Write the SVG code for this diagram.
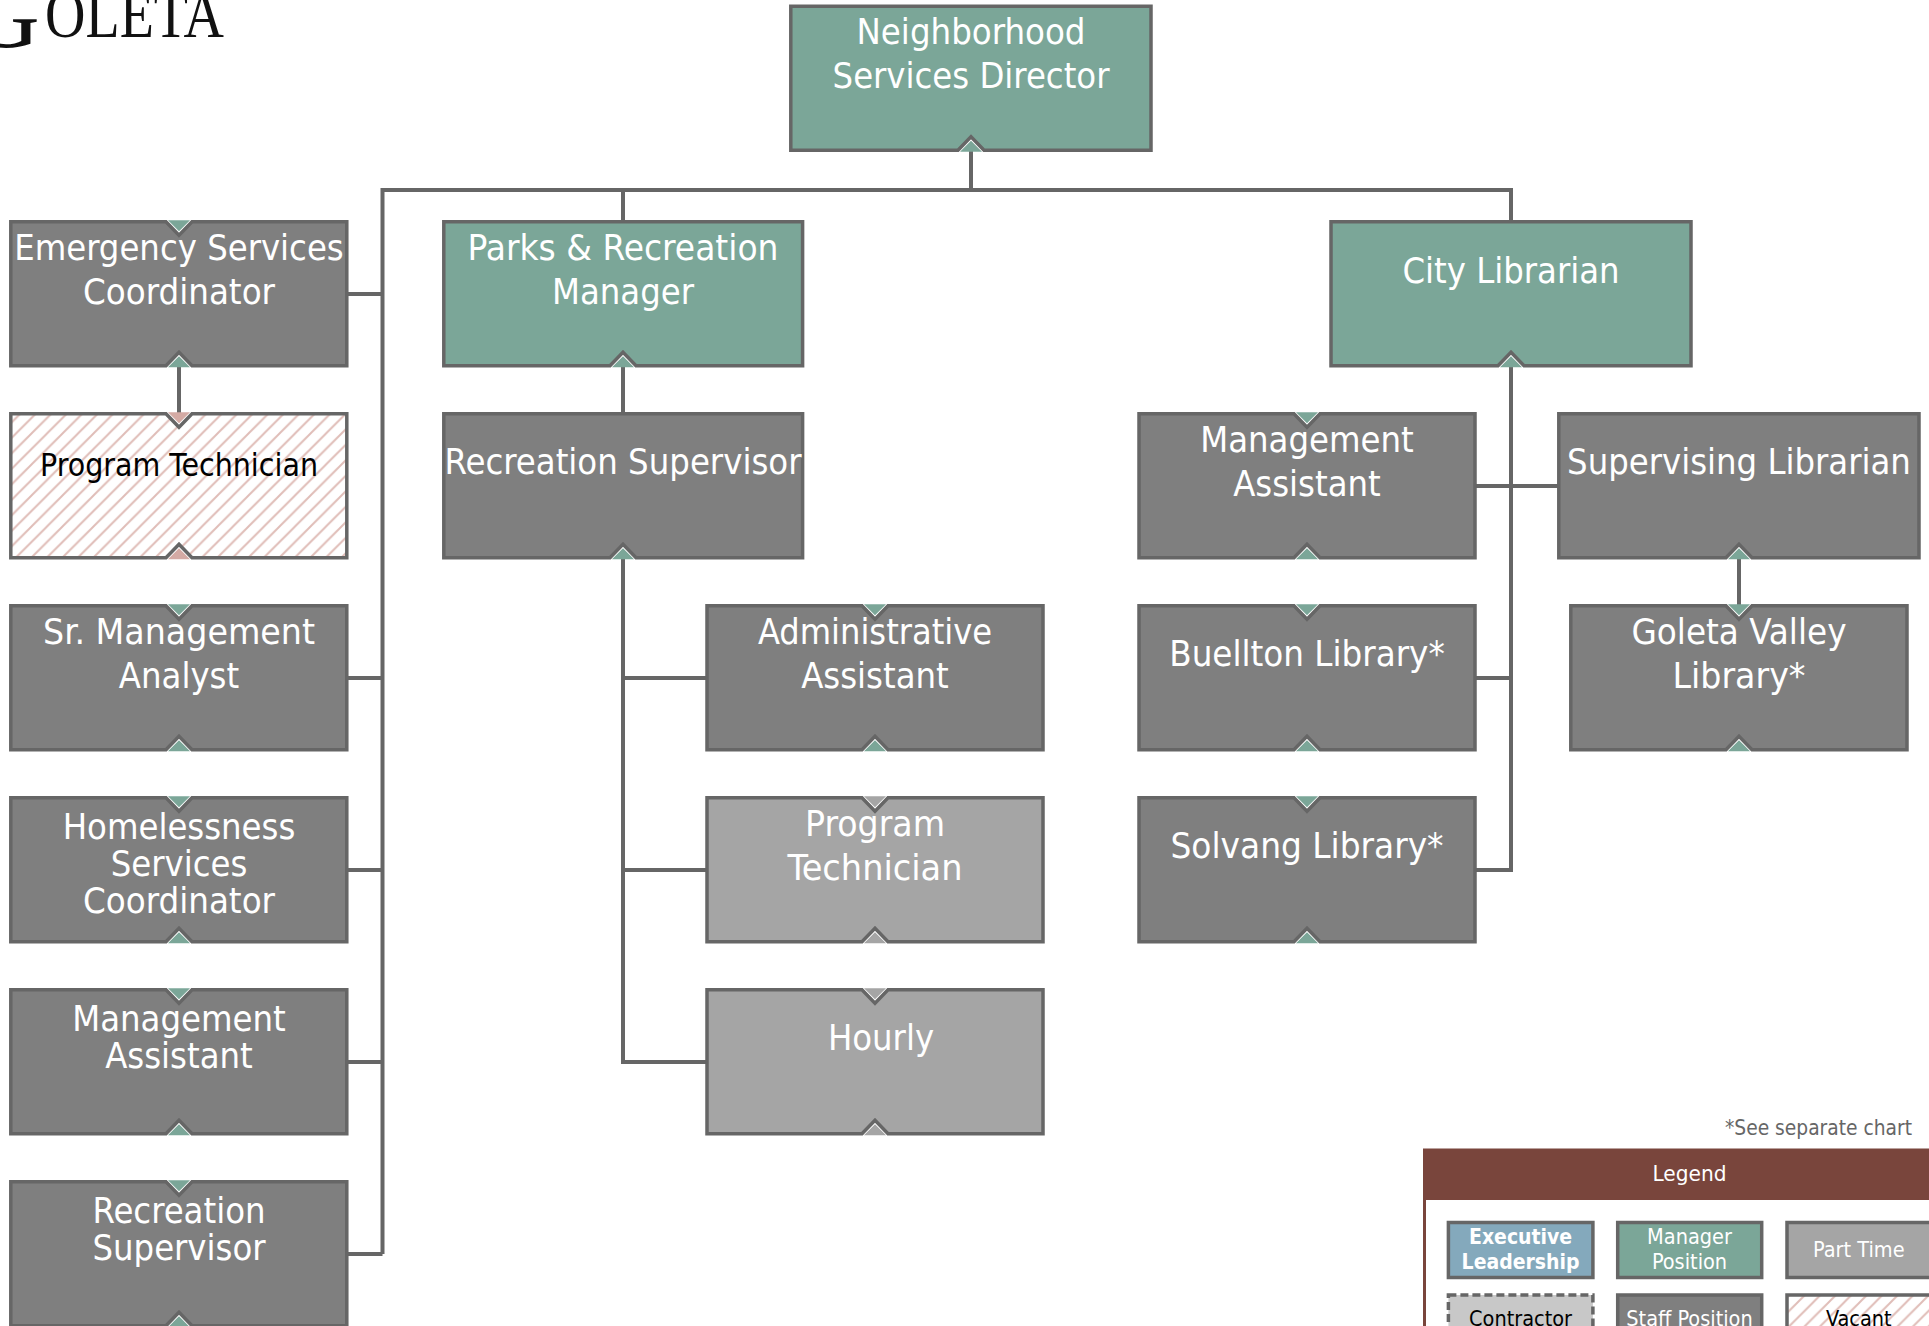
<svg xmlns="http://www.w3.org/2000/svg" width="1929" height="1326" viewBox="0 0 1929 1326">
<style>
.b{stroke:#666;stroke-width:3.5;stroke-linejoin:miter}
.t{fill:#7ba698}.g{fill:#7f7f7f}.p{fill:#a5a5a5}.v{fill:url(#h)}.k{fill:#d4aaa4}
text{font-family:"DejaVu Sans Condensed","DejaVu Sans",sans-serif;text-anchor:middle}
.n{font-size:36px;fill:#fff}
.d{font-size:32px;fill:#000}
.l{font-size:21.500px;fill:#fff}
.c{fill:none;stroke:#666;stroke-width:4}
.lb{stroke:#666;stroke-width:3.5}
</style>
<defs>
<pattern id="h" patternUnits="userSpaceOnUse" width="15.500" height="15.500"><rect width="15.500" height="15.500" fill="#fff"/><path d="M-2 17.500L17.500 -2M-2 2L2 -2M13.500 17.500L17.500 13.500" stroke="#e0bdb8" stroke-width="2"/></pattern>
<path id="up" d="M-11 0H11L0 -11Z"/>
<path id="dn" d="M-11 0H11L0 11Z"/>
</defs>
<rect width="1929" height="1326" fill="#fff"/>
<g id="logo"><text x="-31" y="37" style="font-family:'Liberation Serif',serif;text-anchor:start;font-size:68px" fill="#111"><tspan font-size="98" dy="10">G</tspan><tspan dy="-10" x="45" textLength="179" lengthAdjust="spacingAndGlyphs">OLETA</tspan></text></g>
<g id="connectors">
<path class="c" d="M971 151V190M382.500 1254V190H1511V221M623 190V221M348 294H382.500M348 678H382.500M348 870H382.500M348 1062H382.500M348 1254H382.500"/>
<path class="c" d="M179 367V413M623 367V413M623 559V1062H706M623 678H706M623 870H706"/>
<path class="c" d="M1511 367V870H1476M1476 678H1511M1476 486H1558M1739 559V605"/>
</g>
<g id="director"><path class="b t" d="M790.800 6.200H1151V150.200H984l-13-13.500-13 13.500H790.800Z"/><use href="#up" x="971" y="151.700" class="t"/><text class="n" x="971" y="44" textLength="229" lengthAdjust="spacingAndGlyphs">Neighborhood</text><text class="n" x="971" y="88">Services Director</text></g>
<g id="emergency"><path class="b g" d="M10.800 221.800H166l13 13.500 13-13.500H346.800V365.800H192l-13-13.500-13 13.500H10.800Z"/><use href="#dn" x="179" y="220.300" class="t"/><use href="#up" x="179" y="367.300" class="t"/><text class="n" x="179" y="260">Emergency Services</text><text class="n" x="179" y="304" textLength="192" lengthAdjust="spacingAndGlyphs">Coordinator</text></g>
<g id="vacant-tech"><path class="b v" d="M10.800 413.800H166l13 13.500 13-13.500H346.800V557.800H192l-13-13.500-13 13.500H10.800Z"/><use href="#dn" x="179" y="412.300" class="k"/><use href="#up" x="179" y="559.300" class="k"/><text class="d" x="179" y="476" textLength="278" lengthAdjust="spacingAndGlyphs">Program Technician</text></g>
<g id="sr-mgmt"><path class="b g" d="M10.800 605.800H166l13 13.500 13-13.500H346.800V749.800H192l-13-13.500-13 13.500H10.800Z"/><use href="#dn" x="179" y="604.300" class="t"/><use href="#up" x="179" y="751.300" class="t"/><text class="n" x="179" y="644" textLength="272" lengthAdjust="spacingAndGlyphs">Sr. Management</text><text class="n" x="179" y="688">Analyst</text></g>
<g id="homeless"><path class="b g" d="M10.800 797.800H166l13 13.500 13-13.500H346.800V941.800H192l-13-13.500-13 13.500H10.800Z"/><use href="#dn" x="179" y="796.300" class="t"/><use href="#up" x="179" y="943.300" class="t"/><text class="n" x="179" y="838.500">Homelessness</text><text class="n" x="179" y="875.500">Services</text><text class="n" x="179" y="913.300" textLength="192" lengthAdjust="spacingAndGlyphs">Coordinator</text></g>
<g id="mgmt-left"><path class="b g" d="M10.800 989.800H166l13 13.500 13-13.500H346.800V1133.800H192l-13-13.500-13 13.500H10.800Z"/><use href="#dn" x="179" y="988.300" class="t"/><use href="#up" x="179" y="1135.300" class="t"/><text class="n" x="179" y="1031">Management</text><text class="n" x="179" y="1068">Assistant</text></g>
<g id="rec-left"><path class="b g" d="M10.800 1181.800H166l13 13.500 13-13.500H346.800V1325.800H192l-13-13.500-13 13.500H10.800Z"/><use href="#dn" x="179" y="1180.300" class="t"/><use href="#up" x="179" y="1327.300" class="t"/><text class="n" x="179" y="1223">Recreation</text><text class="n" x="179" y="1260">Supervisor</text></g>
<g id="parks"><path class="b t" d="M443.800 221.800H802.600V365.800H636l-13-13.500-13 13.500H443.800Z"/><use href="#up" x="623" y="367.300" class="t"/><text class="n" x="623" y="260" textLength="311" lengthAdjust="spacingAndGlyphs">Parks &amp; Recreation</text><text class="n" x="623" y="304">Manager</text></g>
<g id="rec-sup"><path class="b g" d="M443.800 413.800H802.600V557.800H636l-13-13.500-13 13.500H443.800Z"/><use href="#up" x="623" y="559.300" class="t"/><text class="n" x="623" y="474" textLength="357" lengthAdjust="spacingAndGlyphs">Recreation Supervisor</text></g>
<g id="admin"><path class="b g" d="M707 605.800H862l13 13.500 13-13.500H1043V749.800H888l-13-13.500-13 13.500H707Z"/><use href="#dn" x="875" y="604.300" class="t"/><use href="#up" x="875" y="751.300" class="t"/><text class="n" x="875" y="644" textLength="234" lengthAdjust="spacingAndGlyphs">Administrative</text><text class="n" x="875" y="688">Assistant</text></g>
<g id="prog-tech"><path class="b p" d="M707 797.800H862l13 13.500 13-13.500H1043V941.800H888l-13-13.500-13 13.500H707Z"/><use href="#dn" x="875" y="796.300" class="p"/><use href="#up" x="875" y="943.300" class="p"/><text class="n" x="875" y="836" textLength="140" lengthAdjust="spacingAndGlyphs">Program</text><text class="n" x="875" y="880" textLength="175" lengthAdjust="spacingAndGlyphs">Technician</text></g>
<g id="hourly"><path class="b p" d="M707 989.800H862l13 13.500 13-13.500H1043V1133.800H888l-13-13.500-13 13.500H707Z"/><use href="#dn" x="875" y="988.300" class="p"/><use href="#up" x="875" y="1135.300" class="p"/><text class="n" x="881" y="1050">Hourly</text></g>
<g id="city"><path class="b t" d="M1331 221.800H1691V365.800H1524l-13-13.500-13 13.500H1331Z"/><use href="#up" x="1511" y="367.300" class="t"/><text class="n" x="1511" y="282.500">City Librarian</text></g>
<g id="mgmt-right"><path class="b g" d="M1139 413.800H1294l13 13.500 13-13.500H1475V557.800H1320l-13-13.500-13 13.500H1139Z"/><use href="#dn" x="1307" y="412.300" class="t"/><use href="#up" x="1307" y="559.300" class="t"/><text class="n" x="1307" y="452">Management</text><text class="n" x="1307" y="496">Assistant</text></g>
<g id="buellton"><path class="b g" d="M1139 605.800H1294l13 13.500 13-13.500H1475V749.800H1320l-13-13.500-13 13.500H1139Z"/><use href="#dn" x="1307" y="604.300" class="t"/><use href="#up" x="1307" y="751.300" class="t"/><text class="n" x="1307" y="666" textLength="275.500" lengthAdjust="spacingAndGlyphs">Buellton Library*</text></g>
<g id="solvang"><path class="b g" d="M1139 797.800H1294l13 13.500 13-13.500H1475V941.800H1320l-13-13.500-13 13.500H1139Z"/><use href="#dn" x="1307" y="796.300" class="t"/><use href="#up" x="1307" y="943.300" class="t"/><text class="n" x="1307" y="858" textLength="273" lengthAdjust="spacingAndGlyphs">Solvang Library*</text></g>
<g id="sup-lib"><path class="b g" d="M1558.800 413.800H1919V557.800H1752l-13-13.500-13 13.500H1558.800Z"/><use href="#up" x="1739" y="559.300" class="t"/><text class="n" x="1739" y="474">Supervising Librarian</text></g>
<g id="goleta-valley"><path class="b g" d="M1570.800 605.800H1726l13 13.500 13-13.500H1907V749.800H1752l-13-13.500-13 13.500H1570.800Z"/><use href="#dn" x="1739" y="604.300" class="t"/><use href="#up" x="1739" y="751.300" class="t"/><text class="n" x="1739" y="644" textLength="215" lengthAdjust="spacingAndGlyphs">Goleta Valley</text><text class="n" x="1739" y="688" textLength="133" lengthAdjust="spacingAndGlyphs">Library*</text></g>
<g id="legend">
<text x="1912" y="1135" style="text-anchor:end;font-size:21px" fill="#666" textLength="187" lengthAdjust="spacingAndGlyphs">*See separate chart</text>
<rect x="1423" y="1148.500" width="506" height="51.500" fill="#79453c"/><rect x="1423" y="1200" width="3" height="126" fill="#79453c"/>
<text class="l" x="1689.500" y="1180.500" textLength="74" lengthAdjust="spacingAndGlyphs">Legend</text>
<rect class="lb" x="1448.400" y="1222.500" width="144.500" height="55" fill="#84a9bc"/><text class="l" x="1520.600" y="1244" font-weight="bold" style="font-size:21px">Executive</text><text class="l" x="1520.600" y="1268.500" font-weight="bold" style="font-size:21px">Leadership</text>
<rect class="lb" x="1617.700" y="1222.500" width="144" height="55" fill="#7ba698"/><text class="l" x="1689.500" y="1244">Manager</text><text class="l" x="1689.500" y="1268.500">Position</text>
<rect class="lb" x="1787" y="1222.500" width="144" height="55" fill="#a5a5a5"/><text class="l" x="1858.800" y="1256.700">Part Time</text>
<rect x="1448.400" y="1295" width="144.500" height="55" fill="#c8c8c8" stroke="#666" stroke-width="3.500" stroke-dasharray="8 4"/><text class="l" x="1520.600" y="1325.500" style="fill:#000">Contractor</text>
<rect class="lb" x="1617.700" y="1295" width="144" height="55" fill="#7f7f7f"/><text class="l" x="1689.500" y="1325.500">Staff Position</text>
<rect class="lb" x="1787" y="1295" width="144" height="55" fill="url(#h)"/><text class="l" x="1858.800" y="1325.500" style="fill:#000">Vacant</text>
</g>
</svg>
